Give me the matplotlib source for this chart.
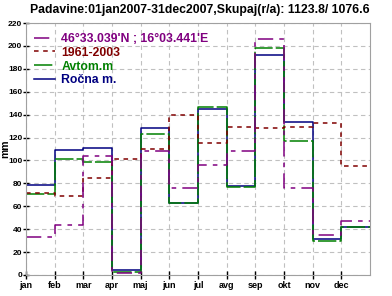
import numpy as np
import matplotlib
matplotlib.use("Agg")
import matplotlib.pyplot as plt

plt.rcParams["font.family"] = ["Liberation Sans", "DejaVu Sans"]

months = ["jan", "feb", "mar", "apr", "maj", "jun", "jul", "avg", "sep", "okt", "nov", "dec"]

rocna = [79, 109, 111, 4, 128, 63, 145, 78, 192, 134, 31, 42]
avtom = [71, 101, 99, 3, 123, 63, 147, 77, 198, 117, 30, 42]
normal = [72, 69, 85, 101, 110, 140, 115, 129, 128, 129, 133, 95]
station = [33, 44, 104, 2, 108, 76, 96, 108, 206, 76, 35, 47]

title = "Padavine:01jan2007-31dec2007,Skupaj(r/a): 1123.8/ 1076.6"

fig = plt.figure(figsize=(3.92, 2.96), dpi=100)
ax = fig.add_axes([0.066, 0.071, 0.878, 0.851])

x = np.arange(len(months) + 1)


def stepline(vals, **kw):
    ax.step(x, list(vals) + [vals[-1]], where="post", lw=1.1, **kw)


stepline(rocna, color="#000080", ls="-", label="Ročna m.")
stepline(avtom, color="#008000", ls=(0, (12, 2)), label="Avtom.m")
stepline(normal, color="#800000", ls=(0, (3, 3)), label="1961-2003")
stepline(station, color="#800080", ls=(0, (10, 4, 3, 4)), label="46°33.039'N ; 16°03.441'E")

ax.set_xlim(0, 12)
ax.set_ylim(0, 220)
ax.set_xticks(range(12))
ax.set_xticklabels(months, fontsize=6.5, fontweight="bold")
ax.set_yticks(range(0, 221, 20))
ax.set_yticklabels([str(v) for v in range(0, 221, 20)], fontsize=6, fontweight="bold")
ax.tick_params(direction="inout", length=6, width=1, pad=1)
ax.tick_params(axis="y", length=4, pad=0.5)
ax.grid(True, color="#c0c0c0", ls=(0, (4, 3)), lw=0.8)
for s in ax.spines.values():
    s.set_color("#a0a0a0")
fig.text(0.0, 0.497, "mm", rotation=90, ha="left", va="center", fontsize=7.5, fontweight="bold")
fig.text(0.51, 0.985, title, ha="center", va="top", fontsize=8.8, fontweight="bold")

handles, labels = ax.get_legend_handles_labels()
order = [3, 2, 1, 0]
leg = ax.legend([handles[i] for i in order], [labels[i] for i in order],
                loc="upper left", bbox_to_anchor=(0.0, 0.995), frameon=False,
                fontsize=8.8, handlelength=1.7, handletextpad=0.5,
                labelspacing=0.15, borderaxespad=0.3)
for t, h in zip(leg.get_texts(), leg.legend_handles):
    t.set_color(h.get_color())
    t.set_fontweight("bold")

fig.savefig("out.png", dpi=100)
